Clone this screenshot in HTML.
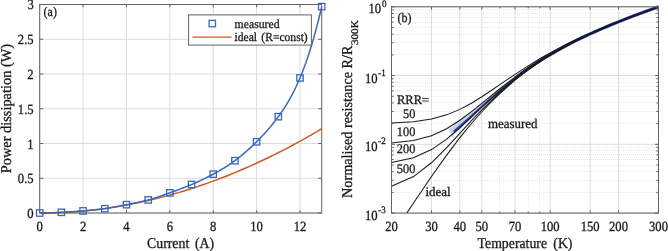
<!DOCTYPE html>
<html><head><meta charset="utf-8"><style>
html,body{margin:0;padding:0;background:#fff;overflow:hidden;}
svg{display:block;}
text{font-family:"Liberation Serif", serif;fill:#1a1a1a;stroke:#1a1a1a;stroke-width:0.3;text-rendering:geometricPrecision;}
</style></head><body>
<svg width="668" height="251" viewBox="0 0 668 251">
<defs><filter id="bl" x="0" y="0" width="100%" height="100%"><feGaussianBlur stdDeviation="0.45"/></filter></defs>
<rect width="668" height="251" fill="#fff"/>
<g>
<line x1="499.5" y1="7" x2="499.5" y2="212" stroke="#e9e9e9" stroke-width="1" stroke-dasharray="1,1"/>
<line x1="528.5" y1="7" x2="528.5" y2="212" stroke="#e9e9e9" stroke-width="1" stroke-dasharray="1,1"/>
<line x1="539.5" y1="7" x2="539.5" y2="212" stroke="#e9e9e9" stroke-width="1" stroke-dasharray="1,1"/>
<line x1="393" y1="192.5" x2="658" y2="192.5" stroke="#e9e9e9" stroke-width="1" stroke-dasharray="1,1"/>
<line x1="393" y1="180.5" x2="658" y2="180.5" stroke="#e9e9e9" stroke-width="1" stroke-dasharray="1,1"/>
<line x1="393" y1="171.5" x2="658" y2="171.5" stroke="#e9e9e9" stroke-width="1" stroke-dasharray="1,1"/>
<line x1="393" y1="165.5" x2="658" y2="165.5" stroke="#e9e9e9" stroke-width="1" stroke-dasharray="1,1"/>
<line x1="393" y1="159.5" x2="658" y2="159.5" stroke="#e9e9e9" stroke-width="1" stroke-dasharray="1,1"/>
<line x1="393" y1="154.5" x2="658" y2="154.5" stroke="#e9e9e9" stroke-width="1" stroke-dasharray="1,1"/>
<line x1="393" y1="150.5" x2="658" y2="150.5" stroke="#e9e9e9" stroke-width="1" stroke-dasharray="1,1"/>
<line x1="393" y1="147.5" x2="658" y2="147.5" stroke="#e9e9e9" stroke-width="1" stroke-dasharray="1,1"/>
<line x1="393" y1="123.5" x2="658" y2="123.5" stroke="#e9e9e9" stroke-width="1" stroke-dasharray="1,1"/>
<line x1="393" y1="111.5" x2="658" y2="111.5" stroke="#e9e9e9" stroke-width="1" stroke-dasharray="1,1"/>
<line x1="393" y1="102.5" x2="658" y2="102.5" stroke="#e9e9e9" stroke-width="1" stroke-dasharray="1,1"/>
<line x1="393" y1="96.5" x2="658" y2="96.5" stroke="#e9e9e9" stroke-width="1" stroke-dasharray="1,1"/>
<line x1="393" y1="90.5" x2="658" y2="90.5" stroke="#e9e9e9" stroke-width="1" stroke-dasharray="1,1"/>
<line x1="393" y1="86.5" x2="658" y2="86.5" stroke="#e9e9e9" stroke-width="1" stroke-dasharray="1,1"/>
<line x1="393" y1="82.5" x2="658" y2="82.5" stroke="#e9e9e9" stroke-width="1" stroke-dasharray="1,1"/>
<line x1="393" y1="78.5" x2="658" y2="78.5" stroke="#e9e9e9" stroke-width="1" stroke-dasharray="1,1"/>
<line x1="393" y1="54.5" x2="658" y2="54.5" stroke="#e9e9e9" stroke-width="1" stroke-dasharray="1,1"/>
<line x1="393" y1="42.5" x2="658" y2="42.5" stroke="#e9e9e9" stroke-width="1" stroke-dasharray="1,1"/>
<line x1="393" y1="34.5" x2="658" y2="34.5" stroke="#e9e9e9" stroke-width="1" stroke-dasharray="1,1"/>
<line x1="393" y1="27.5" x2="658" y2="27.5" stroke="#e9e9e9" stroke-width="1" stroke-dasharray="1,1"/>
<line x1="393" y1="22.5" x2="658" y2="22.5" stroke="#e9e9e9" stroke-width="1" stroke-dasharray="1,1"/>
<line x1="393" y1="17.5" x2="658" y2="17.5" stroke="#e9e9e9" stroke-width="1" stroke-dasharray="1,1"/>
<line x1="393" y1="13.5" x2="658" y2="13.5" stroke="#e9e9e9" stroke-width="1" stroke-dasharray="1,1"/>
<line x1="393" y1="9.5" x2="658" y2="9.5" stroke="#e9e9e9" stroke-width="1" stroke-dasharray="1,1"/>
</g>
<g filter="url(#bl)">
<line x1="39.7" y1="4.5" x2="39.7" y2="213" stroke="#dcdcdc" stroke-width="1"/>
<line x1="83.08" y1="4.5" x2="83.08" y2="213" stroke="#dcdcdc" stroke-width="1"/>
<line x1="126.47" y1="4.5" x2="126.47" y2="213" stroke="#dcdcdc" stroke-width="1"/>
<line x1="169.85" y1="4.5" x2="169.85" y2="213" stroke="#dcdcdc" stroke-width="1"/>
<line x1="213.24" y1="4.5" x2="213.24" y2="213" stroke="#dcdcdc" stroke-width="1"/>
<line x1="256.62" y1="4.5" x2="256.62" y2="213" stroke="#dcdcdc" stroke-width="1"/>
<line x1="300.01" y1="4.5" x2="300.01" y2="213" stroke="#dcdcdc" stroke-width="1"/>
<line x1="39.7" y1="213" x2="321.7" y2="213" stroke="#dcdcdc" stroke-width="1"/>
<line x1="39.7" y1="178.25" x2="321.7" y2="178.25" stroke="#dcdcdc" stroke-width="1"/>
<line x1="39.7" y1="143.5" x2="321.7" y2="143.5" stroke="#dcdcdc" stroke-width="1"/>
<line x1="39.7" y1="108.75" x2="321.7" y2="108.75" stroke="#dcdcdc" stroke-width="1"/>
<line x1="39.7" y1="74" x2="321.7" y2="74" stroke="#dcdcdc" stroke-width="1"/>
<line x1="39.7" y1="39.25" x2="321.7" y2="39.25" stroke="#dcdcdc" stroke-width="1"/>
<line x1="39.7" y1="4.5" x2="321.7" y2="4.5" stroke="#dcdcdc" stroke-width="1"/>
<line x1="431.48" y1="6.8" x2="431.48" y2="213.1" stroke="#dcdcdc" stroke-width="1"/>
<line x1="459.84" y1="6.8" x2="459.84" y2="213.1" stroke="#dcdcdc" stroke-width="1"/>
<line x1="481.84" y1="6.8" x2="481.84" y2="213.1" stroke="#dcdcdc" stroke-width="1"/>
<line x1="515.02" y1="6.8" x2="515.02" y2="213.1" stroke="#dcdcdc" stroke-width="1"/>
<line x1="550.18" y1="6.8" x2="550.18" y2="213.1" stroke="#dcdcdc" stroke-width="1"/>
<line x1="590.16" y1="6.8" x2="590.16" y2="213.1" stroke="#dcdcdc" stroke-width="1"/>
<line x1="618.52" y1="6.8" x2="618.52" y2="213.1" stroke="#dcdcdc" stroke-width="1"/>
<line x1="391.5" y1="213.1" x2="658.5" y2="213.1" stroke="#dcdcdc" stroke-width="1"/>
<line x1="391.5" y1="144.33" x2="658.5" y2="144.33" stroke="#dcdcdc" stroke-width="1"/>
<line x1="391.5" y1="75.57" x2="658.5" y2="75.57" stroke="#dcdcdc" stroke-width="1"/>
<line x1="391.5" y1="6.8" x2="658.5" y2="6.8" stroke="#dcdcdc" stroke-width="1"/>
<polyline points="39.7,213 44.48,212.98 49.26,212.9 54.04,212.78 58.82,212.61 63.6,212.4 68.38,212.13 73.16,211.81 77.94,211.45 82.72,211.04 87.5,210.58 92.28,210.07 97.06,209.52 101.84,208.91 106.62,208.26 111.39,207.56 116.17,206.81 120.95,206.01 125.73,205.16 130.51,204.26 135.29,203.32 140.07,202.33 144.85,201.29 149.63,200.2 154.41,199.06 159.19,197.88 163.97,196.64 168.75,195.36 173.53,194.03 178.31,192.65 183.09,191.22 187.87,189.75 192.65,188.22 197.43,186.65 202.21,185.03 206.99,183.36 211.77,181.64 216.55,179.87 221.33,178.06 226.11,176.19 230.89,174.28 235.67,172.32 240.45,170.31 245.23,168.26 250.01,166.15 254.78,164 259.56,161.8 264.34,159.55 269.12,157.25 273.9,154.9 278.68,152.5 283.46,150.06 288.24,147.57 293.02,145.03 297.8,142.44 302.58,139.8 307.36,137.11 312.14,134.38 316.92,131.6 321.7,128.77" fill="none" stroke="#d05a25" stroke-width="1.5"/>
<polyline points="39.7,213 41.12,212.98 42.53,212.96 43.95,212.93 45.37,212.9 46.79,212.87 48.2,212.83 49.62,212.79 51.04,212.74 52.45,212.69 53.87,212.64 55.29,212.58 56.71,212.52 58.12,212.46 59.54,212.4 60.96,212.33 62.37,212.25 63.79,212.18 65.21,212.1 66.62,212.02 68.04,211.94 69.46,211.85 70.88,211.76 72.29,211.67 73.71,211.58 75.13,211.49 76.54,211.39 77.96,211.29 79.38,211.19 80.8,211.09 82.21,210.98 83.63,210.87 85.05,210.77 86.46,210.65 87.88,210.54 89.3,210.42 90.72,210.3 92.13,210.17 93.55,210.04 94.97,209.9 96.38,209.75 97.8,209.59 99.22,209.43 100.63,209.26 102.05,209.07 103.47,208.88 104.89,208.67 106.3,208.46 107.72,208.23 109.14,208 110.55,207.75 111.97,207.5 113.39,207.24 114.81,206.97 116.22,206.7 117.64,206.42 119.06,206.14 120.47,205.86 121.89,205.58 123.31,205.29 124.73,205.01 126.14,204.73 127.56,204.44 128.98,204.16 130.39,203.89 131.81,203.6 133.23,203.32 134.64,203.04 136.06,202.75 137.48,202.45 138.9,202.15 140.31,201.84 141.73,201.52 143.15,201.19 144.56,200.85 145.98,200.5 147.4,200.14 148.82,199.76 150.23,199.36 151.65,198.95 153.07,198.53 154.48,198.1 155.9,197.65 157.32,197.19 158.74,196.73 160.15,196.26 161.57,195.77 162.99,195.28 164.4,194.79 165.82,194.29 167.24,193.78 168.65,193.28 170.07,192.77 171.49,192.25 172.91,191.74 174.32,191.22 175.74,190.7 177.16,190.18 178.57,189.65 179.99,189.11 181.41,188.57 182.83,188.03 184.24,187.47 185.66,186.92 187.08,186.35 188.49,185.77 189.91,185.19 191.33,184.6 192.75,183.99 194.16,183.38 195.58,182.76 197,182.13 198.41,181.49 199.83,180.83 201.25,180.17 202.66,179.5 204.08,178.82 205.5,178.12 206.92,177.42 208.33,176.71 209.75,175.98 211.17,175.24 212.58,174.5 214,173.74 215.42,172.97 216.84,172.19 218.25,171.39 219.67,170.59 221.09,169.76 222.5,168.92 223.92,168.06 225.34,167.18 226.76,166.28 228.17,165.36 229.59,164.42 231.01,163.46 232.42,162.47 233.84,161.46 235.26,160.42 236.67,159.36 238.09,158.27 239.51,157.15 240.93,156.01 242.34,154.84 243.76,153.65 245.18,152.44 246.59,151.2 248.01,149.93 249.43,148.65 250.85,147.34 252.26,146 253.68,144.65 255.1,143.27 256.51,141.87 257.93,140.45 259.35,139.01 260.77,137.54 262.18,136.05 263.6,134.53 265.02,132.98 266.43,131.39 267.85,129.78 269.27,128.13 270.68,126.44 272.1,124.72 273.52,122.96 274.94,121.15 276.35,119.31 277.77,117.41 279.19,115.47 280.6,113.48 282.02,111.44 283.44,109.33 284.86,107.15 286.27,104.9 287.69,102.56 289.11,100.14 290.52,97.63 291.94,95.02 293.36,92.3 294.78,89.47 296.19,86.52 297.61,83.45 299.03,80.25 300.44,76.92 301.86,73.45 303.28,69.82 304.69,66.05 306.11,62.11 307.53,58.01 308.95,53.74 310.36,49.29 311.78,44.66 313.2,39.84 314.61,34.82 316.03,29.6 317.45,24.17 318.87,18.53 320.28,12.67 321.7,6.59" fill="none" stroke="#3868bd" stroke-width="1.5"/>
<rect x="36.5" y="209.8" width="6.4" height="6.4" fill="none" stroke="#3868bd" stroke-width="1.3"/>
<rect x="58.19" y="209.11" width="6.4" height="6.4" fill="none" stroke="#3868bd" stroke-width="1.3"/>
<rect x="79.88" y="207.72" width="6.4" height="6.4" fill="none" stroke="#3868bd" stroke-width="1.3"/>
<rect x="101.58" y="205.49" width="6.4" height="6.4" fill="none" stroke="#3868bd" stroke-width="1.3"/>
<rect x="123.27" y="201.46" width="6.4" height="6.4" fill="none" stroke="#3868bd" stroke-width="1.3"/>
<rect x="144.96" y="196.73" width="6.4" height="6.4" fill="none" stroke="#3868bd" stroke-width="1.3"/>
<rect x="166.65" y="189.65" width="6.4" height="6.4" fill="none" stroke="#3868bd" stroke-width="1.3"/>
<rect x="188.35" y="181.31" width="6.4" height="6.4" fill="none" stroke="#3868bd" stroke-width="1.3"/>
<rect x="210.04" y="170.95" width="6.4" height="6.4" fill="none" stroke="#3868bd" stroke-width="1.3"/>
<rect x="231.73" y="157.47" width="6.4" height="6.4" fill="none" stroke="#3868bd" stroke-width="1.3"/>
<rect x="253.42" y="138.56" width="6.4" height="6.4" fill="none" stroke="#3868bd" stroke-width="1.3"/>
<rect x="275.12" y="113.47" width="6.4" height="6.4" fill="none" stroke="#3868bd" stroke-width="1.3"/>
<rect x="296.81" y="74.76" width="6.4" height="6.4" fill="none" stroke="#3868bd" stroke-width="1.3"/>
<rect x="318.5" y="3.39" width="6.4" height="6.4" fill="none" stroke="#3868bd" stroke-width="1.3"/>
<rect x="39.7" y="4.5" width="282" height="208.5" fill="none" stroke="#636363" stroke-width="1"/>
<line x1="39.7" y1="213" x2="39.7" y2="210.2" stroke="#636363" stroke-width="1"/>
<line x1="39.7" y1="4.5" x2="39.7" y2="7.3" stroke="#636363" stroke-width="1"/>
<line x1="83.08" y1="213" x2="83.08" y2="210.2" stroke="#636363" stroke-width="1"/>
<line x1="83.08" y1="4.5" x2="83.08" y2="7.3" stroke="#636363" stroke-width="1"/>
<line x1="126.47" y1="213" x2="126.47" y2="210.2" stroke="#636363" stroke-width="1"/>
<line x1="126.47" y1="4.5" x2="126.47" y2="7.3" stroke="#636363" stroke-width="1"/>
<line x1="169.85" y1="213" x2="169.85" y2="210.2" stroke="#636363" stroke-width="1"/>
<line x1="169.85" y1="4.5" x2="169.85" y2="7.3" stroke="#636363" stroke-width="1"/>
<line x1="213.24" y1="213" x2="213.24" y2="210.2" stroke="#636363" stroke-width="1"/>
<line x1="213.24" y1="4.5" x2="213.24" y2="7.3" stroke="#636363" stroke-width="1"/>
<line x1="256.62" y1="213" x2="256.62" y2="210.2" stroke="#636363" stroke-width="1"/>
<line x1="256.62" y1="4.5" x2="256.62" y2="7.3" stroke="#636363" stroke-width="1"/>
<line x1="300.01" y1="213" x2="300.01" y2="210.2" stroke="#636363" stroke-width="1"/>
<line x1="300.01" y1="4.5" x2="300.01" y2="7.3" stroke="#636363" stroke-width="1"/>
<line x1="39.7" y1="213" x2="43.2" y2="213" stroke="#636363" stroke-width="1"/>
<line x1="321.7" y1="213" x2="318.2" y2="213" stroke="#636363" stroke-width="1"/>
<line x1="39.7" y1="178.25" x2="43.2" y2="178.25" stroke="#636363" stroke-width="1"/>
<line x1="321.7" y1="178.25" x2="318.2" y2="178.25" stroke="#636363" stroke-width="1"/>
<line x1="39.7" y1="143.5" x2="43.2" y2="143.5" stroke="#636363" stroke-width="1"/>
<line x1="321.7" y1="143.5" x2="318.2" y2="143.5" stroke="#636363" stroke-width="1"/>
<line x1="39.7" y1="108.75" x2="43.2" y2="108.75" stroke="#636363" stroke-width="1"/>
<line x1="321.7" y1="108.75" x2="318.2" y2="108.75" stroke="#636363" stroke-width="1"/>
<line x1="39.7" y1="74" x2="43.2" y2="74" stroke="#636363" stroke-width="1"/>
<line x1="321.7" y1="74" x2="318.2" y2="74" stroke="#636363" stroke-width="1"/>
<line x1="39.7" y1="39.25" x2="43.2" y2="39.25" stroke="#636363" stroke-width="1"/>
<line x1="321.7" y1="39.25" x2="318.2" y2="39.25" stroke="#636363" stroke-width="1"/>
<line x1="39.7" y1="4.5" x2="43.2" y2="4.5" stroke="#636363" stroke-width="1"/>
<line x1="321.7" y1="4.5" x2="318.2" y2="4.5" stroke="#636363" stroke-width="1"/>
<polygon points="448.9,130.08 456.91,122.47 461.44,119.29 465.78,116.1 469.93,112.93 473.92,109.79 477.75,106.72 481.43,103.73 484.99,100.82 488.42,98.02 491.73,95.31 494.94,92.71 498.05,90.21 501.06,87.82 503.98,85.52 506.82,83.31 509.57,81.2 512.26,79.17 514.87,77.23 517.42,75.36 519.9,73.58 522.32,71.86 524.68,70.21 526.98,68.62 529.24,67.1 531.44,65.63 533.6,64.21 535.71,62.85 537.77,61.53 539.79,60.26 539.79,61.14 537.77,62.46 535.71,63.82 533.6,65.24 531.44,66.71 529.24,68.25 526.98,69.84 524.68,71.51 522.32,73.24 519.9,75.06 517.42,76.95 514.87,78.93 512.26,81.01 509.57,83.18 506.82,85.46 503.98,87.85 501.06,90.35 498.05,92.99 494.94,95.76 491.73,98.67 488.42,101.74 484.99,104.95 481.43,108.33 477.75,111.88 473.92,115.59 469.93,119.46 465.78,123.49 461.44,127.66 456.91,131.98 452.15,136.38" fill="#cacef2" stroke="none"/>
<polyline points="453.74,131.44 462.09,124.34 469.78,117.49 476.92,111 483.57,104.94 489.81,99.33 495.67,94.18 501.21,89.45 506.45,85.1 511.42,81.1 516.16,77.42 520.68,74.03 525,70.88 529.14,67.97 533.11,65.25 536.93,62.72 540.61,60.36 544.15,58.14 547.57,56.05 550.88,54.09 554.08,52.23 557.18,50.47 560.18,48.81 563.1,47.22 565.93,45.72 568.68,44.28 571.36,42.9 573.97,41.59 576.51,40.33 578.98,39.12 581.4,37.96 583.76,36.84 586.06,35.76 588.31,34.72 590.51,33.72 592.66,32.74 594.77,31.8 596.83,30.89 598.85,30.01 600.83,29.16 602.77,28.32 604.67,27.51 606.54,26.73 608.37,25.96 610.17,25.22 611.93,24.49 613.67,23.78 615.37,23.09 617.05,22.41 618.7,21.75 620.32,21.1 621.91,20.47 623.48,19.85 625.03,19.25 626.55,18.66 628.05,18.08 629.52,17.51 630.98,16.95 632.41,16.4 633.82,15.86 635.21,15.34 636.59,14.82 637.94,14.31 639.28,13.81 640.59,13.32 641.89,12.83 643.18,12.36 644.44,11.89 645.7,11.43 646.93,10.98 648.15,10.53 649.36,10.09 650.55,9.66 651.72,9.23 652.89,8.81 654.03,8.4 655.17,7.99 656.29,7.59 657.4,7.19 658.5,6.8" fill="none" stroke="#3646b2" stroke-width="2.0"/>
<polyline points="515.02,78.3 522.99,72.33 530.37,67.12 537.23,62.53 543.65,58.45 549.68,54.8 555.35,51.5 560.72,48.51 565.81,45.78 570.65,43.26 575.27,40.94 579.68,38.78 583.9,36.77 587.94,34.89 591.83,33.12 595.57,31.45 599.17,29.87 602.65,28.37 606.01,26.95 609.25,25.59 612.4,24.3 615.44,23.06 618.4,21.87 621.27,20.73 624.05,19.63 626.76,18.57 629.4,17.55 631.97,16.57 634.48,15.61 636.92,14.69 639.3,13.8 641.63,12.93 643.9,12.09 646.13,11.27 648.3,10.48 650.43,9.7 652.51,8.95 654.55,8.22 656.54,7.5 658.5,6.8" fill="none" stroke="#3344b4" stroke-width="3.2"/>
<polyline points="391.5,122.96 413.5,121.65 431.48,119.03 446.68,114.87 459.84,109.37 471.45,103.17 481.84,96.76 491.24,90.52 499.82,84.66 515.02,74.35 528.18,65.83 539.79,58.78 550.18,52.87 572.18,41.52 590.16,33.25 605.36,26.81 618.52,21.54 630.14,17.09 640.52,13.24 649.2,10.1 656.17,7.62 658.5,6.8" fill="none" stroke="#1a1a1a" stroke-width="1.05"/>
<polyline points="391.5,142.99 413.5,140.45 431.48,135.67 446.68,128.68 459.84,120.29 471.45,111.64 481.84,103.32 491.24,95.66 499.82,88.76 515.02,77.09 528.18,67.79 539.79,60.25 550.18,54.01 572.18,42.2 590.16,33.69 605.36,27.1 618.52,21.74 630.14,17.22 640.52,13.31 649.2,10.13 656.17,7.63 658.5,6.8" fill="none" stroke="#1a1a1a" stroke-width="1.05"/>
<polyline points="391.5,162.4 413.5,157.68 431.48,149.6 446.68,139.07 459.84,127.74 471.45,116.99 481.84,107.24 491.24,98.61 499.82,91.04 515.02,78.56 528.18,68.82 539.79,61.01 550.18,54.6 572.18,42.55 590.16,33.91 605.36,27.25 618.52,21.84 630.14,17.28 640.52,13.35 649.2,10.15 656.17,7.63 658.5,6.8" fill="none" stroke="#1a1a1a" stroke-width="1.05"/>
<polyline points="391.5,186.19 413.5,176.55 431.48,162.78 446.68,147.66 459.84,133.31 471.45,120.73 481.84,109.86 491.24,100.52 499.82,92.49 515.02,79.48 528.18,69.45 539.79,61.48 550.18,54.96 572.18,42.76 590.16,34.05 605.36,27.34 618.52,21.9 630.14,17.32 640.52,13.37 649.2,10.16 656.17,7.63 658.5,6.8" fill="none" stroke="#1a1a1a" stroke-width="1.05"/>
<clipPath id="rc"><rect x="391.5" y="0" width="270" height="213.1"/></clipPath>
<polyline clip-path="url(#rc)" points="391.5,236.08 413.5,202.99 431.48,176.55 446.68,155.15 459.84,137.69 471.45,123.51 481.84,111.74 491.24,101.87 499.82,93.5 515.02,80.11 528.18,69.88 539.79,61.79 550.18,55.2 572.18,42.9 590.16,34.14 605.36,27.4 618.52,21.94 630.14,17.35 640.52,13.39 649.2,10.17 656.17,7.64 658.5,6.8" fill="none" stroke="#1a1a1a" stroke-width="1.05"/>
<rect x="391.5" y="6.8" width="267" height="206.3" fill="none" stroke="#636363" stroke-width="1"/>
<line x1="391.5" y1="213.1" x2="391.5" y2="210.3" stroke="#636363" stroke-width="1"/>
<line x1="391.5" y1="6.8" x2="391.5" y2="9.6" stroke="#636363" stroke-width="1"/>
<line x1="431.48" y1="213.1" x2="431.48" y2="210.3" stroke="#636363" stroke-width="1"/>
<line x1="431.48" y1="6.8" x2="431.48" y2="9.6" stroke="#636363" stroke-width="1"/>
<line x1="459.84" y1="213.1" x2="459.84" y2="210.3" stroke="#636363" stroke-width="1"/>
<line x1="459.84" y1="6.8" x2="459.84" y2="9.6" stroke="#636363" stroke-width="1"/>
<line x1="481.84" y1="213.1" x2="481.84" y2="210.3" stroke="#636363" stroke-width="1"/>
<line x1="481.84" y1="6.8" x2="481.84" y2="9.6" stroke="#636363" stroke-width="1"/>
<line x1="515.02" y1="213.1" x2="515.02" y2="210.3" stroke="#636363" stroke-width="1"/>
<line x1="515.02" y1="6.8" x2="515.02" y2="9.6" stroke="#636363" stroke-width="1"/>
<line x1="550.18" y1="213.1" x2="550.18" y2="210.3" stroke="#636363" stroke-width="1"/>
<line x1="550.18" y1="6.8" x2="550.18" y2="9.6" stroke="#636363" stroke-width="1"/>
<line x1="590.16" y1="213.1" x2="590.16" y2="210.3" stroke="#636363" stroke-width="1"/>
<line x1="590.16" y1="6.8" x2="590.16" y2="9.6" stroke="#636363" stroke-width="1"/>
<line x1="618.52" y1="213.1" x2="618.52" y2="210.3" stroke="#636363" stroke-width="1"/>
<line x1="618.52" y1="6.8" x2="618.52" y2="9.6" stroke="#636363" stroke-width="1"/>
<line x1="658.5" y1="213.1" x2="658.5" y2="210.3" stroke="#636363" stroke-width="1"/>
<line x1="658.5" y1="6.8" x2="658.5" y2="9.6" stroke="#636363" stroke-width="1"/>
<line x1="499.82" y1="213.1" x2="499.82" y2="211.5" stroke="#636363" stroke-width="1"/>
<line x1="499.82" y1="6.8" x2="499.82" y2="8.4" stroke="#636363" stroke-width="1"/>
<line x1="528.18" y1="213.1" x2="528.18" y2="211.5" stroke="#636363" stroke-width="1"/>
<line x1="528.18" y1="6.8" x2="528.18" y2="8.4" stroke="#636363" stroke-width="1"/>
<line x1="539.79" y1="213.1" x2="539.79" y2="211.5" stroke="#636363" stroke-width="1"/>
<line x1="539.79" y1="6.8" x2="539.79" y2="8.4" stroke="#636363" stroke-width="1"/>
<line x1="391.5" y1="213.1" x2="394.9" y2="213.1" stroke="#636363" stroke-width="1"/>
<line x1="658.5" y1="213.1" x2="655.1" y2="213.1" stroke="#636363" stroke-width="1"/>
<line x1="391.5" y1="192.4" x2="393.7" y2="192.4" stroke="#636363" stroke-width="1"/>
<line x1="658.5" y1="192.4" x2="656.3" y2="192.4" stroke="#636363" stroke-width="1"/>
<line x1="391.5" y1="180.29" x2="393.7" y2="180.29" stroke="#636363" stroke-width="1"/>
<line x1="658.5" y1="180.29" x2="656.3" y2="180.29" stroke="#636363" stroke-width="1"/>
<line x1="391.5" y1="171.7" x2="393.7" y2="171.7" stroke="#636363" stroke-width="1"/>
<line x1="658.5" y1="171.7" x2="656.3" y2="171.7" stroke="#636363" stroke-width="1"/>
<line x1="391.5" y1="165.03" x2="393.7" y2="165.03" stroke="#636363" stroke-width="1"/>
<line x1="658.5" y1="165.03" x2="656.3" y2="165.03" stroke="#636363" stroke-width="1"/>
<line x1="391.5" y1="159.59" x2="393.7" y2="159.59" stroke="#636363" stroke-width="1"/>
<line x1="658.5" y1="159.59" x2="656.3" y2="159.59" stroke="#636363" stroke-width="1"/>
<line x1="391.5" y1="154.99" x2="393.7" y2="154.99" stroke="#636363" stroke-width="1"/>
<line x1="658.5" y1="154.99" x2="656.3" y2="154.99" stroke="#636363" stroke-width="1"/>
<line x1="391.5" y1="151" x2="393.7" y2="151" stroke="#636363" stroke-width="1"/>
<line x1="658.5" y1="151" x2="656.3" y2="151" stroke="#636363" stroke-width="1"/>
<line x1="391.5" y1="147.48" x2="393.7" y2="147.48" stroke="#636363" stroke-width="1"/>
<line x1="658.5" y1="147.48" x2="656.3" y2="147.48" stroke="#636363" stroke-width="1"/>
<line x1="391.5" y1="144.33" x2="394.9" y2="144.33" stroke="#636363" stroke-width="1"/>
<line x1="658.5" y1="144.33" x2="655.1" y2="144.33" stroke="#636363" stroke-width="1"/>
<line x1="391.5" y1="123.63" x2="393.7" y2="123.63" stroke="#636363" stroke-width="1"/>
<line x1="658.5" y1="123.63" x2="656.3" y2="123.63" stroke="#636363" stroke-width="1"/>
<line x1="391.5" y1="111.52" x2="393.7" y2="111.52" stroke="#636363" stroke-width="1"/>
<line x1="658.5" y1="111.52" x2="656.3" y2="111.52" stroke="#636363" stroke-width="1"/>
<line x1="391.5" y1="102.93" x2="393.7" y2="102.93" stroke="#636363" stroke-width="1"/>
<line x1="658.5" y1="102.93" x2="656.3" y2="102.93" stroke="#636363" stroke-width="1"/>
<line x1="391.5" y1="96.27" x2="393.7" y2="96.27" stroke="#636363" stroke-width="1"/>
<line x1="658.5" y1="96.27" x2="656.3" y2="96.27" stroke="#636363" stroke-width="1"/>
<line x1="391.5" y1="90.82" x2="393.7" y2="90.82" stroke="#636363" stroke-width="1"/>
<line x1="658.5" y1="90.82" x2="656.3" y2="90.82" stroke="#636363" stroke-width="1"/>
<line x1="391.5" y1="86.22" x2="393.7" y2="86.22" stroke="#636363" stroke-width="1"/>
<line x1="658.5" y1="86.22" x2="656.3" y2="86.22" stroke="#636363" stroke-width="1"/>
<line x1="391.5" y1="82.23" x2="393.7" y2="82.23" stroke="#636363" stroke-width="1"/>
<line x1="658.5" y1="82.23" x2="656.3" y2="82.23" stroke="#636363" stroke-width="1"/>
<line x1="391.5" y1="78.71" x2="393.7" y2="78.71" stroke="#636363" stroke-width="1"/>
<line x1="658.5" y1="78.71" x2="656.3" y2="78.71" stroke="#636363" stroke-width="1"/>
<line x1="391.5" y1="75.57" x2="394.9" y2="75.57" stroke="#636363" stroke-width="1"/>
<line x1="658.5" y1="75.57" x2="655.1" y2="75.57" stroke="#636363" stroke-width="1"/>
<line x1="391.5" y1="54.87" x2="393.7" y2="54.87" stroke="#636363" stroke-width="1"/>
<line x1="658.5" y1="54.87" x2="656.3" y2="54.87" stroke="#636363" stroke-width="1"/>
<line x1="391.5" y1="42.76" x2="393.7" y2="42.76" stroke="#636363" stroke-width="1"/>
<line x1="658.5" y1="42.76" x2="656.3" y2="42.76" stroke="#636363" stroke-width="1"/>
<line x1="391.5" y1="34.17" x2="393.7" y2="34.17" stroke="#636363" stroke-width="1"/>
<line x1="658.5" y1="34.17" x2="656.3" y2="34.17" stroke="#636363" stroke-width="1"/>
<line x1="391.5" y1="27.5" x2="393.7" y2="27.5" stroke="#636363" stroke-width="1"/>
<line x1="658.5" y1="27.5" x2="656.3" y2="27.5" stroke="#636363" stroke-width="1"/>
<line x1="391.5" y1="22.06" x2="393.7" y2="22.06" stroke="#636363" stroke-width="1"/>
<line x1="658.5" y1="22.06" x2="656.3" y2="22.06" stroke="#636363" stroke-width="1"/>
<line x1="391.5" y1="17.45" x2="393.7" y2="17.45" stroke="#636363" stroke-width="1"/>
<line x1="658.5" y1="17.45" x2="656.3" y2="17.45" stroke="#636363" stroke-width="1"/>
<line x1="391.5" y1="13.46" x2="393.7" y2="13.46" stroke="#636363" stroke-width="1"/>
<line x1="658.5" y1="13.46" x2="656.3" y2="13.46" stroke="#636363" stroke-width="1"/>
<line x1="391.5" y1="9.95" x2="393.7" y2="9.95" stroke="#636363" stroke-width="1"/>
<line x1="658.5" y1="9.95" x2="656.3" y2="9.95" stroke="#636363" stroke-width="1"/>
<line x1="391.5" y1="6.8" x2="394.9" y2="6.8" stroke="#636363" stroke-width="1"/>
<line x1="658.5" y1="6.8" x2="655.1" y2="6.8" stroke="#636363" stroke-width="1"/>
<rect x="188.6" y="14.9" width="122.8" height="30.2" fill="#fff" stroke="#636363" stroke-width="1"/>
<rect x="209.1" y="20.35" width="6.4" height="6.4" fill="none" stroke="#3868bd" stroke-width="1.3"/>
<line x1="192.4" y1="37.1" x2="231.6" y2="37.1" stroke="#d05a25" stroke-width="1.4"/>
<text transform="translate(234.6,27.5) scale(0.955,1)" font-size="12.3">measured</text>
<text transform="translate(234.6,41.1) scale(0.94,1)" font-size="12.3" word-spacing="1.5">ideal (R=const)</text>
<text transform="translate(39.7,230.5) scale(0.9,1)" font-size="14" text-anchor="middle">0</text>
<text transform="translate(83.08,230.5) scale(0.9,1)" font-size="14" text-anchor="middle">2</text>
<text transform="translate(126.47,230.5) scale(0.9,1)" font-size="14" text-anchor="middle">4</text>
<text transform="translate(169.85,230.5) scale(0.9,1)" font-size="14" text-anchor="middle">6</text>
<text transform="translate(213.24,230.5) scale(0.9,1)" font-size="14" text-anchor="middle">8</text>
<text transform="translate(256.62,230.5) scale(0.9,1)" font-size="14" text-anchor="middle">10</text>
<text transform="translate(300.01,230.5) scale(0.9,1)" font-size="14" text-anchor="middle">12</text>
<text transform="translate(33.6,218) scale(0.9,1)" font-size="14" text-anchor="end">0</text>
<text transform="translate(33.6,183.25) scale(0.9,1)" font-size="14" text-anchor="end">0.5</text>
<text transform="translate(33.6,148.5) scale(0.9,1)" font-size="14" text-anchor="end">1</text>
<text transform="translate(33.6,113.75) scale(0.9,1)" font-size="14" text-anchor="end">1.5</text>
<text transform="translate(33.6,79) scale(0.9,1)" font-size="14" text-anchor="end">2</text>
<text transform="translate(33.6,44.25) scale(0.9,1)" font-size="14" text-anchor="end">2.5</text>
<text transform="translate(33.8,8.8) scale(0.9,1)" font-size="14" text-anchor="end">3</text>
<text transform="translate(180.6,247.6) scale(0.92,1)" font-size="15" text-anchor="middle" word-spacing="2.5">Current (A)</text>
<text transform="translate(11.2,108.6) rotate(-90) scale(0.958,1)" text-anchor="middle" font-size="15">Power dissipation (W)</text>
<text transform="translate(43.6,15.6) scale(0.9,1)" font-size="13.3">(a)</text>
<text transform="translate(391.5,230.5) scale(0.9,1)" font-size="14" text-anchor="middle">20</text>
<text transform="translate(431.48,230.5) scale(0.9,1)" font-size="14" text-anchor="middle">30</text>
<text transform="translate(459.84,230.5) scale(0.9,1)" font-size="14" text-anchor="middle">40</text>
<text transform="translate(481.84,230.5) scale(0.9,1)" font-size="14" text-anchor="middle">50</text>
<text transform="translate(515.02,230.5) scale(0.9,1)" font-size="14" text-anchor="middle">70</text>
<text transform="translate(550.18,230.5) scale(0.9,1)" font-size="14" text-anchor="middle">100</text>
<text transform="translate(590.16,230.5) scale(0.9,1)" font-size="14" text-anchor="middle">150</text>
<text transform="translate(618.52,230.5) scale(0.9,1)" font-size="14" text-anchor="middle">200</text>
<text transform="translate(658.5,230.5) scale(0.9,1)" font-size="14" text-anchor="middle">300</text>
<text transform="translate(377.6,220) scale(0.9,1)" font-size="14" text-anchor="end">10</text>
<text transform="translate(377.9,213.4) scale(1.0,1)" font-size="9.8">-</text>
<text transform="translate(381.2,213.4) scale(0.92,1)" font-size="9.8">3</text>
<text transform="translate(377.6,150.8) scale(0.9,1)" font-size="14" text-anchor="end">10</text>
<text transform="translate(377.9,144.2) scale(1.0,1)" font-size="9.8">-</text>
<text transform="translate(381.2,144.2) scale(0.92,1)" font-size="9.8">2</text>
<text transform="translate(377.6,82.5) scale(0.9,1)" font-size="14" text-anchor="end">10</text>
<text transform="translate(377.9,75.9) scale(1.0,1)" font-size="9.8">-</text>
<text transform="translate(381.2,75.9) scale(0.92,1)" font-size="9.8">1</text>
<text transform="translate(381,13.4) scale(0.9,1)" font-size="14" text-anchor="end">10</text>
<text transform="translate(382,6.8) scale(0.92,1)" font-size="9.8">0</text>
<text transform="translate(525,247.6) scale(0.92,1)" font-size="15" text-anchor="middle" word-spacing="3">Temperature (K)</text>
<text transform="translate(351.5,197.9) rotate(-90) scale(0.948,1)" font-size="15">Normalised resistance R/R</text>
<text transform="translate(357.7,45.1) rotate(-90) scale(1.12,1)" font-size="10">300K</text>
<text transform="translate(397.6,22) scale(0.9,1)" font-size="13.3">(b)</text>
<text transform="translate(397,103.6) scale(0.96,1)" font-size="13">RRR=</text>
<text transform="translate(403,117.9) scale(0.95,1)" font-size="13">50</text>
<text transform="translate(396.8,136.4) scale(0.95,1)" font-size="13">100</text>
<text transform="translate(396.8,153.1) scale(0.95,1)" font-size="13">200</text>
<text transform="translate(396.8,172.5) scale(0.95,1)" font-size="13">500</text>
<text transform="translate(488,128.4) scale(0.955,1)" font-size="13.5">measured</text>
<text transform="translate(425.4,196.3) scale(1.0,1)" font-size="13">ideal</text>
</g>
</svg>
</body></html>
